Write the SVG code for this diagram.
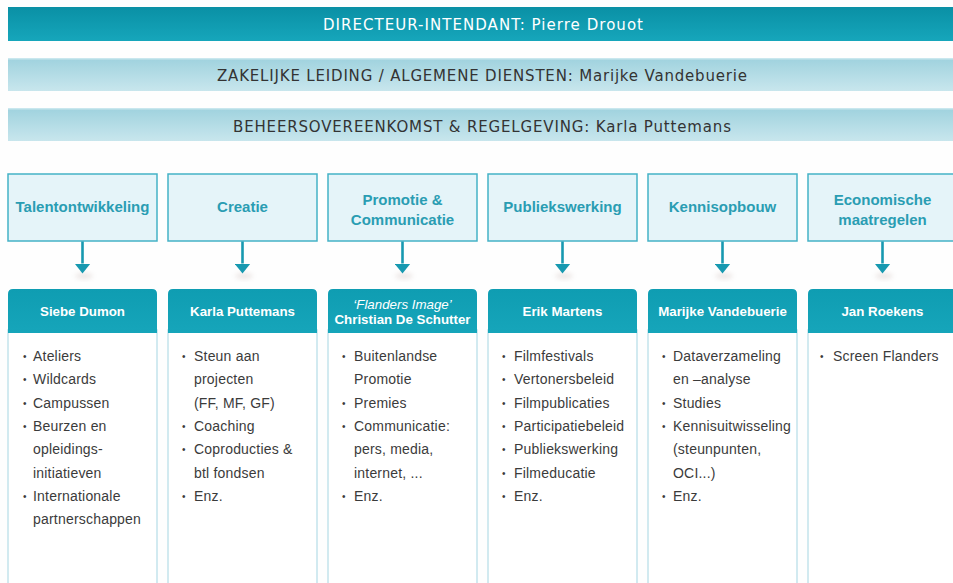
<svg xmlns="http://www.w3.org/2000/svg" width="953" height="583" viewBox="0 0 953 583">
<defs>
<linearGradient id="gTop" x1="0" y1="0" x2="0" y2="1"><stop offset="0" stop-color="#0a90a5"/><stop offset="1" stop-color="#16a6bb"/></linearGradient>
<linearGradient id="gBar" x1="0" y1="0" x2="0" y2="1"><stop offset="0" stop-color="#9fd2de"/><stop offset="1" stop-color="#c8e6ed"/></linearGradient>
<linearGradient id="gHead" x1="0" y1="0" x2="0" y2="1"><stop offset="0" stop-color="#0f9db2"/><stop offset="1" stop-color="#16a5ba"/></linearGradient>
<filter id="sh" x="-50%" y="-50%" width="200%" height="200%"><feGaussianBlur stdDeviation="2.5"/></filter>
<marker id="ah" viewBox="0 -8 10 16" refX="0" refY="0" markerWidth="10" markerHeight="16" markerUnits="userSpaceOnUse" orient="auto"><path d="M0,-8 L10,0 L0,8 Z" fill="#1799b0"/></marker>
</defs>
<style>
.bar{font-family:"DejaVu Sans","Liberation Sans",Arial,sans-serif;font-size:15px;text-anchor:middle}
.cat rect{fill:#e5f4f9;stroke:#44b2c6;stroke-width:1.5}
.cat text{font-family:"Liberation Sans",Arial,sans-serif;font-size:15px;font-weight:bold;fill:#2a9db3;text-anchor:middle}
.hd{fill:url(#gHead)}
.ht{font-family:"Liberation Sans",Arial,sans-serif;font-size:13.3px;font-weight:bold;fill:#ffffff;text-anchor:middle}
.it{font-style:italic;font-weight:normal}
.body{fill:#ffffff;stroke:#c3e3ec;stroke-width:1.5}
.li{font-family:"Liberation Sans",Arial,sans-serif;font-size:14px;fill:#3b3b3b;letter-spacing:0.2px}
.bu{font-family:"Liberation Sans",Arial,sans-serif;font-size:10px;fill:#3b3b3b}
.conn line{stroke:#1799b0;stroke-width:2.6}
</style>
<rect x="0" y="0" width="953" height="583" fill="#fefefe"/>

<g id="directeur">
<rect x="8" y="7" width="945" height="34" fill="url(#gTop)"/>
<text class="bar" x="483" y="30" fill="#ffffff" textLength="320" lengthAdjust="spacing">DIRECTEUR-INTENDANT: Pierre Drouot</text>
</g>
<g id="zakelijke">
<rect x="8" y="58" width="945" height="33" fill="url(#gBar)"/>
<rect x="8" y="58" width="945" height="1.5" fill="#c9e7ee"/>
<text class="bar" x="482" y="80.5" fill="#333333" textLength="530" lengthAdjust="spacing">ZAKELIJKE LEIDING / ALGEMENE DIENSTEN: Marijke Vandebuerie</text>
</g>
<g id="beheer">
<rect x="8" y="108" width="945" height="33" fill="url(#gBar)"/>
<rect x="8" y="108" width="945" height="1.5" fill="#c9e7ee"/>
<text class="bar" x="482" y="132" fill="#333333" textLength="498" lengthAdjust="spacing">BEHEERSOVEREENKOMST &amp; REGELGEVING: Karla Puttemans</text>
</g>

<g id="cat1" class="cat"><rect x="8" y="174" width="149" height="67"/><text x="82.5" y="212">Talentontwikkeling</text></g>
<g id="cat2" class="cat"><rect x="168" y="174" width="149" height="67"/><text x="242.5" y="212">Creatie</text></g>
<g id="cat3" class="cat"><rect x="328" y="174" width="149" height="67"/><text x="402.5" y="204.5">Promotie &amp;</text><text x="402.5" y="224.5">Communicatie</text></g>
<g id="cat4" class="cat"><rect x="488" y="174" width="149" height="67"/><text x="562.5" y="212">Publiekswerking</text></g>
<g id="cat5" class="cat"><rect x="648" y="174" width="149" height="67"/><text x="722.5" y="212">Kennisopbouw</text></g>
<g id="cat6" class="cat"><rect x="808" y="174" width="149" height="67"/><text x="882.5" y="204.5">Economische</text><text x="882.5" y="224.5">maatregelen</text></g>

<g id="shadows" fill="#c9b8b4" opacity="0.35" filter="url(#sh)">
<ellipse cx="84" cy="276" rx="9" ry="3"/><ellipse cx="244" cy="276" rx="9" ry="3"/><ellipse cx="404" cy="276" rx="9" ry="3"/><ellipse cx="564" cy="276" rx="9" ry="3"/><ellipse cx="724" cy="276" rx="9" ry="3"/><ellipse cx="884" cy="276" rx="9" ry="3"/>
</g>
<g id="connectors" class="conn">
<line x1="82.5" y1="241.5" x2="82.5" y2="263.5" marker-end="url(#ah)"/>
<line x1="242.5" y1="241.5" x2="242.5" y2="263.5" marker-end="url(#ah)"/>
<line x1="402.5" y1="241.5" x2="402.5" y2="263.5" marker-end="url(#ah)"/>
<line x1="562.5" y1="241.5" x2="562.5" y2="263.5" marker-end="url(#ah)"/>
<line x1="722.5" y1="241.5" x2="722.5" y2="263.5" marker-end="url(#ah)"/>
<line x1="882.5" y1="241.5" x2="882.5" y2="263.5" marker-end="url(#ah)"/>
</g>

<g id="team1">
<rect class="body" x="8" y="330" width="149" height="270"/>
<path class="hd" d="M8,333 V294 Q8,289 13,289 H152 Q157,289 157,294 V333 Z"/>
<text class="ht" x="82.5" y="316">Siebe Dumon</text>
<g class="bu"><text x="23" y="360">•</text><text x="23" y="383.3">•</text><text x="23" y="406.6">•</text><text x="23" y="429.9">•</text><text x="23" y="499.8">•</text></g>
<g class="li"><text x="33" y="361">Ateliers</text><text x="33" y="384.3">Wildcards</text><text x="33" y="407.6">Campussen</text><text x="33" y="430.9">Beurzen en</text><text x="33" y="454.2">opleidings-</text><text x="33" y="477.5">initiatieven</text><text x="33" y="500.8">Internationale</text><text x="33" y="524.1">partnerschappen</text></g>
</g>

<g id="team2">
<rect class="body" x="168" y="330" width="149" height="270"/>
<path class="hd" d="M168,333 V294 Q168,289 173,289 H312 Q317,289 317,294 V333 Z"/>
<text class="ht" x="242.5" y="316">Karla Puttemans</text>
<g class="bu"><text x="182" y="360">•</text><text x="182" y="429.9">•</text><text x="182" y="453.2">•</text><text x="182" y="499.8">•</text></g>
<g class="li"><text x="194" y="361">Steun aan</text><text x="194" y="384.3">projecten</text><text x="194" y="407.6">(FF, MF, GF)</text><text x="194" y="430.9">Coaching</text><text x="194" y="454.2">Coproducties &amp;</text><text x="194" y="477.5">btl fondsen</text><text x="194" y="500.8">Enz.</text></g>
</g>

<g id="team3">
<rect class="body" x="328" y="330" width="149" height="270"/>
<path class="hd" d="M328,333 V294 Q328,289 333,289 H472 Q477,289 477,294 V333 Z"/>
<text class="ht it" x="402.5" y="308.5">‘Flanders Image’</text>
<text class="ht" x="402.5" y="324">Christian De Schutter</text>
<g class="bu"><text x="342" y="360">•</text><text x="342" y="406.6">•</text><text x="342" y="429.9">•</text><text x="342" y="499.8">•</text></g>
<g class="li"><text x="354" y="361">Buitenlandse</text><text x="354" y="384.3">Promotie</text><text x="354" y="407.6">Premies</text><text x="354" y="430.9">Communicatie:</text><text x="354" y="454.2">pers, media,</text><text x="354" y="477.5">internet, ...</text><text x="354" y="500.8">Enz.</text></g>
</g>

<g id="team4">
<rect class="body" x="488" y="330" width="149" height="270"/>
<path class="hd" d="M488,333 V294 Q488,289 493,289 H632 Q637,289 637,294 V333 Z"/>
<text class="ht" x="562.5" y="316">Erik Martens</text>
<g class="bu"><text x="502" y="360">•</text><text x="502" y="383.3">•</text><text x="502" y="406.6">•</text><text x="502" y="429.9">•</text><text x="502" y="453.2">•</text><text x="502" y="476.5">•</text><text x="502" y="499.8">•</text></g>
<g class="li"><text x="514" y="361">Filmfestivals</text><text x="514" y="384.3">Vertonersbeleid</text><text x="514" y="407.6">Filmpublicaties</text><text x="514" y="430.9">Participatiebeleid</text><text x="514" y="454.2">Publiekswerking</text><text x="514" y="477.5">Filmeducatie</text><text x="514" y="500.8">Enz.</text></g>
</g>

<g id="team5">
<rect class="body" x="648" y="330" width="149" height="270"/>
<path class="hd" d="M648,333 V294 Q648,289 653,289 H792 Q797,289 797,294 V333 Z"/>
<text class="ht" x="722.5" y="316">Marijke Vandebuerie</text>
<g class="bu"><text x="662" y="360">•</text><text x="662" y="406.6">•</text><text x="662" y="429.9">•</text><text x="662" y="499.8">•</text></g>
<g class="li"><text x="673" y="361">Dataverzameling</text><text x="673" y="384.3">en –analyse</text><text x="673" y="407.6">Studies</text><text x="673" y="430.9">Kennisuitwisseling</text><text x="673" y="454.2">(steunpunten,</text><text x="673" y="477.5">OCI...)</text><text x="673" y="500.8">Enz.</text></g>
</g>

<g id="team6">
<rect class="body" x="808" y="330" width="149" height="270"/>
<path class="hd" d="M808,333 V294 Q808,289 813,289 H952 Q957,289 957,294 V333 Z"/>
<text class="ht" x="882.5" y="316">Jan Roekens</text>
<g class="bu"><text x="820" y="360">•</text></g>
<g class="li"><text x="833" y="361">Screen Flanders</text></g>
</g>
</svg>
